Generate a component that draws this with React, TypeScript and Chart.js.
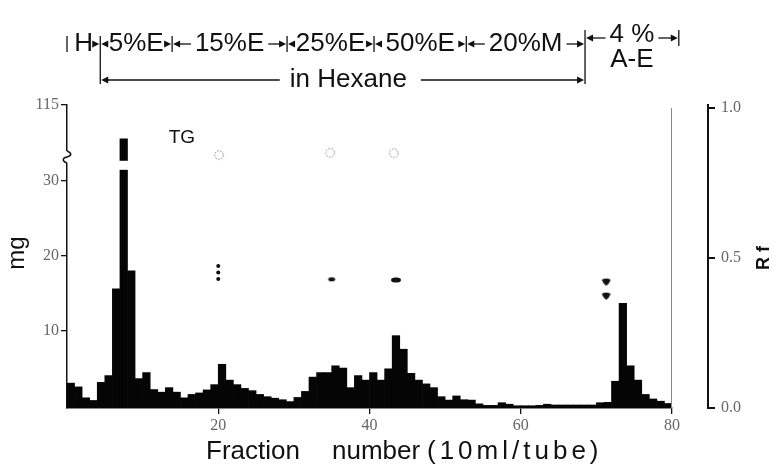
import { useEffect, useRef } from 'react';
import { Chart, registerables } from 'chart.js';

Chart.register(...registerables);

// Fraction index (bar k spans fraction k .. k+1), mg per tube
const mgValues = [
  3.1, 2.6, 1.15, 0.8, 3.2, 4.1, 15.6, 110.5, 18, 3.7,
  4.5, 2.25, 1.9, 2.5, 1.9, 1.15, 1.6, 1.8, 2.2, 2.9,
  5.6, 3.5, 2.9, 2.4, 2.1, 1.6, 1.3, 1.1, 0.9, 0.65,
  1.2, 2.0, 3.9, 4.5, 4.5, 5.4, 5.1, 2.5, 4.1, 3.5,
  4.5, 3.5, 5.0, 9.4, 7.6, 4.4, 3.5, 3.0, 2.5, 1.3,
  0.85, 1.4, 0.9, 0.85, 0.35, 0.15, 0.15, 0.5, 0.3, 0.1,
  0.1, 0.1, 0.15, 0.3, 0.2, 0.2, 0.2, 0.2, 0.2, 0.2,
  0.5, 0.55, 3.35, 13.7, 5.4, 3.5, 1.6, 1.0, 0.7, 0.4,
];

// TLC spots (fraction, Rf)
const rfOpen = [
  { x: 20.1, y: 0.843 },
  { x: 34.8, y: 0.851 },
  { x: 43.2, y: 0.849 },
];
const rfDots = [
  { x: 20.0, y: 0.473 },
  { x: 20.0, y: 0.452 },
  { x: 20.0, y: 0.43 },
];
const rfSpotSmall = [{ x: 35.0, y: 0.429 }];
const rfSpotLarge = [{ x: 43.5, y: 0.427 }];
const rfDrops = [
  { x: 71.3, y: 0.421 },
  { x: 71.3, y: 0.374 },
];

// Axis ticks
const xTicks = [20, 40, 60, 80];
const yTicks = [10, 20, 30, 40];
const yTickLabels = ['10', '20', '30', '115'];
const rfTicks = [0, 0.5, 1.0];

// Broken axis: values above the break are shifted down by this offset
const breakOffset = 75;
const breakGap = [31.4, 32.6];

// Solvent steps (fraction boundaries)
const stepBounds = [0, 4.4, 13.9, 29.1, 40.6, 52.8, 68.5, 80.9];
const stepLabels = ['H', '5%E', '15%E', '25%E', '50%E', '20%M', '4 %'];
const hexaneRange = [4.4, 68.5];

const breakMap = (v: number) => (v > 50 ? v - breakOffset : v);

function makeCanvas(w: number, h: number, draw: (c: CanvasRenderingContext2D) => void) {
  const cv = document.createElement('canvas');
  cv.width = w;
  cv.height = h;
  const c = cv.getContext('2d')!;
  draw(c);
  return cv;
}

const FONT = '"Liberation Sans", Arial, sans-serif';

function arrowHead(ctx: CanvasRenderingContext2D, tipX: number, y: number, dir: number) {
  ctx.beginPath();
  ctx.moveTo(tipX, y);
  ctx.lineTo(tipX - dir * 7, y - 3.5);
  ctx.lineTo(tipX - dir * 7, y + 3.5);
  ctx.closePath();
  ctx.fill();
}

const decor = {
  id: 'decor',
  afterDatasetsDraw(chart: any) {
    const ctx = chart.ctx;
    const y = chart.scales.y;
    const el = chart.getDatasetMeta(0).data[7];
    if (el) {
      const t = y.getPixelForValue(breakGap[1]);
      const b = y.getPixelForValue(breakGap[0]);
      ctx.save();
      ctx.fillStyle = '#fff';
      ctx.fillRect(el.x - el.width / 2 - 1, t, el.width + 2, b - t);
      ctx.restore();
    }
  },
  afterDraw(chart: any) {
    const ctx: CanvasRenderingContext2D = chart.ctx;
    const xs = chart.scales.x;
    const ys = chart.scales.y;
    const rf = chart.scales.yRf;
    const X = (v: number) => xs.getPixelForValue(v);
    const area = chart.chartArea;
    ctx.save();

    // right frame line
    ctx.strokeStyle = '#888';
    ctx.lineWidth = 1;
    ctx.beginPath();
    ctx.moveTo(X(80) - 0.5, rf.getPixelForValue(1.0));
    ctx.lineTo(X(80) - 0.5, area.bottom);
    ctx.stroke();

    // axis break squiggle on the y axis
    const bx = area.left;
    const bt = ys.getPixelForValue(33.9);
    const bb = ys.getPixelForValue(32.3);
    ctx.fillStyle = '#fff';
    ctx.fillRect(bx - 3, bt, 7, bb - bt);
    ctx.strokeStyle = '#111';
    ctx.lineWidth = 1.5;
    ctx.beginPath();
    const bm = (bt + bb) / 2;
    ctx.moveTo(bx, bt);
    ctx.bezierCurveTo(bx + 5, bt + 2, bx + 5, bm - 1, bx, bm);
    ctx.bezierCurveTo(bx - 5, bm + 1, bx - 5, bb - 2, bx, bb);
    ctx.stroke();

    ctx.fillStyle = '#111';
    ctx.strokeStyle = '#111';

    // TG label
    ctx.font = `19px ${FONT}`;
    ctx.textAlign = 'center';
    ctx.textBaseline = 'middle';
    ctx.fillText('TG', X(15.2), ys.getPixelForValue(35.6));

    // mg axis title
    ctx.save();
    ctx.translate(17, 253);
    ctx.rotate(-Math.PI / 2);
    ctx.font = `24px ${FONT}`;
    ctx.fillText('mg', 0, 0);
    ctx.restore();

    // Rf axis title
    ctx.save();
    ctx.translate(764, 258);
    ctx.rotate(-Math.PI / 2);
    ctx.font = `bold 18px ${FONT}`;
    ctx.fillText('R f', 0, 0);
    ctx.restore();

    // x axis title
    ctx.font = `26px ${FONT}`;
    ctx.textAlign = 'left';
    ctx.fillText('Fraction', 206, 452);
    ctx.fillText('number', 332, 452);
    (ctx as any).letterSpacing = '4px';
    ctx.fillText('(10ml/tube)', 427, 452);
    (ctx as any).letterSpacing = '0px';

    // header row 1: solvent steps
    const r1 = 44;
    ctx.font = `26px ${FONT}`;
    ctx.textAlign = 'center';
    ctx.lineWidth = 1.3;
    for (let i = 0; i < stepLabels.length; i++) {
      const a = X(stepBounds[i]);
      const b = X(stepBounds[i + 1]);
      const c = (a + b) / 2;
      let w: number;
      const last = i === stepLabels.length - 1;
      if (last) {
        ctx.fillText(stepLabels[i], c, 35);
        ctx.fillText('A-E', c, 60);
        w = ctx.measureText(stepLabels[i]).width;
      } else {
        ctx.fillText(stepLabels[i], c, r1);
        w = ctx.measureText(stepLabels[i]).width;
      }
      const ly = last ? 38 : r1;
      const l1 = c - w / 2 - 4;
      const l2 = c + w / 2 + 4;
      if (i > 0) {
        arrowHead(ctx, a + 1, ly, -1);
        if (l1 - (a + 6) > 2) {
          ctx.beginPath();
          ctx.moveTo(a + 6, ly);
          ctx.lineTo(l1, ly);
          ctx.stroke();
        }
      }
      arrowHead(ctx, b - 1, ly, 1);
      if (b - 6 - l2 > 2) {
        ctx.beginPath();
        ctx.moveTo(l2, ly);
        ctx.lineTo(b - 6, ly);
        ctx.stroke();
      }
    }
    // boundary bars
    for (let i = 0; i < stepBounds.length; i++) {
      const p = X(stepBounds[i]);
      const yy = i >= stepBounds.length - 2 ? 38 : r1;
      ctx.beginPath();
      ctx.moveTo(p, yy - 8);
      ctx.lineTo(p, yy + 8);
      ctx.stroke();
    }

    // header row 2: in Hexane
    const r2 = 80;
    const ha = X(hexaneRange[0]);
    const hb = X(hexaneRange[1]);
    ctx.beginPath();
    ctx.moveTo(ha, r1 + 8);
    ctx.lineTo(ha, r2 + 4);
    ctx.moveTo(hb, 46);
    ctx.lineTo(hb, r2 + 4);
    ctx.stroke();
    const hc = X(37.2);
    ctx.fillText('in Hexane', hc, r2);
    const hw = ctx.measureText('in Hexane').width;
    ctx.beginPath();
    ctx.moveTo(ha + 6, r2);
    ctx.lineTo(hc - hw / 2 - 10, r2);
    ctx.moveTo(hc + hw / 2 + 14, r2);
    ctx.lineTo(hb - 6, r2);
    ctx.stroke();
    arrowHead(ctx, ha + 1, r2, -1);
    arrowHead(ctx, hb - 1, r2, 1);

    ctx.restore();
  },
};

export default function App() {
  const ref = useRef<HTMLCanvasElement | null>(null);

  useEffect(() => {
    if (!ref.current) return;

    const openCircle = makeCanvas(12, 12, (c) => {
      c.strokeStyle = '#777';
      c.lineWidth = 1;
      c.setLineDash([1.5, 1.5]);
      c.beginPath();
      c.arc(6, 6, 4.3, 0, Math.PI * 2);
      c.stroke();
    });
    const spotSmall = makeCanvas(10, 6, (c) => {
      c.fillStyle = '#111';
      c.beginPath();
      c.ellipse(5, 3, 3.5, 2.1, 0, 0, Math.PI * 2);
      c.fill();
    });
    const spotLarge = makeCanvas(14, 8, (c) => {
      c.fillStyle = '#111';
      c.beginPath();
      c.ellipse(7, 4, 5, 2.6, 0, 0, Math.PI * 2);
      c.fill();
    });
    const drop = makeCanvas(12, 10, (c) => {
      c.fillStyle = '#111';
      c.beginPath();
      c.moveTo(1.5, 3);
      c.quadraticCurveTo(6, 0.5, 10.5, 3);
      c.quadraticCurveTo(9, 7, 6, 9);
      c.quadraticCurveTo(3, 7, 1.5, 3);
      c.fill();
    });

    const barData = mgValues.map((v, k) => ({ x: k + 0.5, y: breakMap(v) }));

    const chart = new Chart(ref.current, {
      type: 'bar',
      data: {
        datasets: [
          {
            type: 'bar',
            data: barData as any,
            backgroundColor: '#050505',
            borderWidth: 0,
            barPercentage: 1,
            categoryPercentage: 1,
            base: -0.2,
            xAxisID: 'x',
            yAxisID: 'y',
          } as any,
          {
            type: 'scatter',
            data: rfOpen,
            pointStyle: openCircle,
            xAxisID: 'x',
            yAxisID: 'yRf',
          } as any,
          {
            type: 'scatter',
            data: rfDots,
            pointStyle: 'circle',
            pointRadius: 2,
            backgroundColor: '#111',
            borderWidth: 0,
            xAxisID: 'x',
            yAxisID: 'yRf',
          } as any,
          {
            type: 'scatter',
            data: rfSpotSmall,
            pointStyle: spotSmall,
            xAxisID: 'x',
            yAxisID: 'yRf',
          } as any,
          {
            type: 'scatter',
            data: rfSpotLarge,
            pointStyle: spotLarge,
            xAxisID: 'x',
            yAxisID: 'yRf',
          } as any,
          {
            type: 'scatter',
            data: rfDrops,
            pointStyle: drop,
            xAxisID: 'x',
            yAxisID: 'yRf',
          } as any,
        ],
      },
      options: {
        responsive: false,
        animation: false,
        devicePixelRatio: 1,
        layout: { padding: { top: 105, left: 0, right: 0, bottom: 0 } },
        plugins: {
          legend: { display: false },
          tooltip: { enabled: false },
          title: { display: false },
        },
        scales: {
          x: {
            type: 'linear',
            position: 'bottom',
            min: 0,
            max: 80,
            offset: false,
            afterBuildTicks: (s: any) => {
              s.ticks = xTicks.map((v) => ({ value: v }));
            },
            afterFit: (s: any) => {
              s.height = 58;
            },
            grid: {
              display: true,
              offset: false,
              drawOnChartArea: false,
              drawTicks: true,
              tickLength: 6,
              color: '#111',
              lineWidth: 1.3,
            },
            border: { display: true, color: '#111', width: 1.5 },
            ticks: {
              padding: 2,
              color: '#666',
              font: { family: '"Liberation Serif", "DejaVu Serif", serif', size: 16 },
              callback: (v: any) => String(v),
            },
          },
          y: {
            type: 'linear',
            position: 'left',
            min: -0.2,
            max: 40,
            afterBuildTicks: (s: any) => {
              s.ticks = yTicks.map((v) => ({ value: v }));
            },
            afterFit: (s: any) => {
              s.width = 67;
            },
            grid: {
              display: true,
              drawOnChartArea: false,
              drawTicks: true,
              tickLength: 6,
              color: '#111',
              lineWidth: 1.3,
            },
            border: { display: true, color: '#111', width: 1.5 },
            ticks: {
              padding: 2,
              color: '#666',
              font: { family: '"Liberation Serif", "DejaVu Serif", serif', size: 16 },
              callback: (v: any) => {
                const i = yTicks.indexOf(Number(v));
                return i >= 0 ? yTickLabels[i] : '';
              },
            },
          },
          spacer: {
            type: 'linear',
            position: 'right',
            weight: 0,
            display: true,
            grid: { display: false },
            border: { display: false },
            ticks: { display: false },
            afterFit: (s: any) => {
              s.width = 36;
            },
          },
          yRf: {
            type: 'linear',
            position: 'right',
            weight: 1,
            min: 0,
            max: 1.01,
            afterBuildTicks: (s: any) => {
              s.ticks = rfTicks.map((v) => ({ value: v }));
            },
            afterFit: (s: any) => {
              s.width = 66;
            },
            grid: {
              display: true,
              drawOnChartArea: false,
              drawTicks: true,
              tickLength: 7,
              color: '#111',
              lineWidth: 2,
            },
            border: { display: true, color: '#111', width: 2 },
            ticks: {
              padding: 6,
              color: '#666',
              font: { family: '"Liberation Serif", "DejaVu Serif", serif', size: 16 },
              callback: (v: any) => Number(v).toFixed(1),
            },
          },
        } as any,
      },
      plugins: [decor],
    });

    return () => chart.destroy();
  }, []);

  return (
    <div style={{ position: 'fixed', left: 0, top: 0, width: 774, height: 466, background: '#fff' }}>
      <canvas ref={ref} width={774} height={466} style={{ display: 'block' }} />
    </div>
  );
}
